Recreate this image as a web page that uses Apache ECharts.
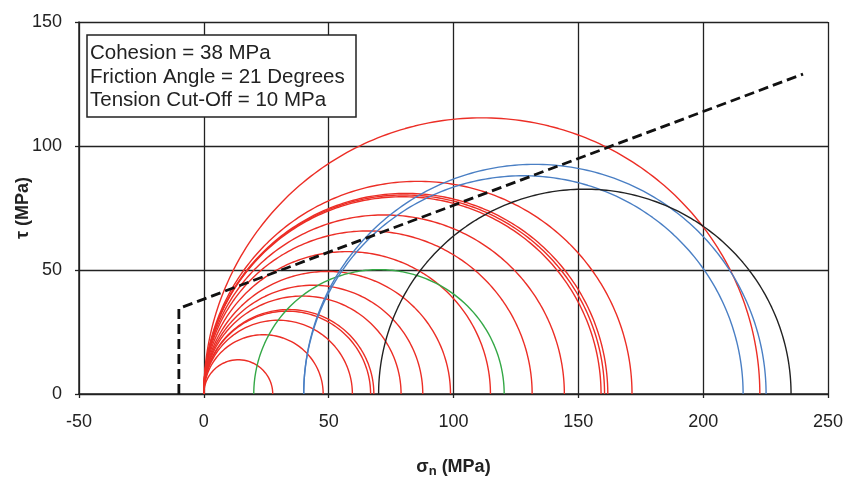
<!DOCTYPE html>
<html>
<head>
<meta charset="utf-8">
<script src="https://cdn.jsdelivr.net/npm/echarts@6/dist/echarts.min.js"></script>
<style>
html,body{margin:0;padding:0;background:#fff;}
#chart{width:846px;height:485px;}
</style>
</head>
<body>
<div id="chart"></div>
<script>
// Mohr circles: minor (sigma3) and major (sigma1) principal stresses, MPa
const redSigma3 = [0, 0, 0, 0, 0, 0, 0, 0, 0, 0, 0, 0, 0, 0, 0, 0];
const redSigma1 = [27.6, 47.8, 59.5, 66.8, 68.1, 79.0, 87.7, 98.8, 114.8, 131.5, 144.4, 159.1, 160.5, 161.8, 171.5, 222.7];
const blueSigma3 = [40, 40];
const blueSigma1 = [216.0, 225.2];
const greenSigma3 = [20];
const greenSigma1 = [120.3];
const blackSigma3 = [70];
const blackSigma1 = [235.2];
// Failure envelope with tension cut-off
const envSigma = [-10, -10, 240];
const envTau = [0, 34.5, 129];
// Axis ticks
const xTicks = [-50, 0, 50, 100, 150, 200, 250];
const yTicks = [0, 50, 100, 150];
const annotation = ['Cohesion = 38 MPa', 'Friction Angle = 21 Degrees', 'Tension Cut-Off = 10 MPa'];

function semicircle(s3, s1) {
  const c = (s3 + s1) / 2, r = (s1 - s3) / 2, pts = [];
  const n = 180;
  for (let i = 0; i <= n; i++) {
    const t = Math.PI * i / n;
    pts.push([c + r * Math.cos(t), r * Math.sin(t)]);
  }
  return pts;
}

const series = [];
function addCircles(s3arr, s1arr, color) {
  s3arr.forEach((s3, i) => {
    series.push({
      type: 'line', data: semicircle(s3, s1arr[i]), showSymbol: false, symbol: 'none',
      lineStyle: {color: color, width: 1.4}, silent: true, z: 3
    });
  });
}
addCircles(redSigma3, redSigma1, '#ec2e26');
addCircles(greenSigma3, greenSigma1, '#34a846');
addCircles(blueSigma3, blueSigma1, '#4a7fc4');
addCircles(blackSigma3, blackSigma1, '#222222');
series.push({
  type: 'line', data: envSigma.map((s, i) => [s, envTau[i]]), showSymbol: false, symbol: 'none',
  lineStyle: {color: '#111', width: 2.8, type: [10, 5]}, z: 5
});

const FONT = 'Liberation Sans, Arial, sans-serif';
const chart = echarts.init(document.getElementById('chart'), null, {renderer: 'canvas'});
chart.setOption({
  animation: false,
  backgroundColor: '#fff',
  title: {
    text: annotation.join('\n'),
    left: 87, top: 35,
    padding: [7, 12, 5, 3],
    borderColor: '#222', borderWidth: 1.5, backgroundColor: '#fff',
    textStyle: {fontFamily: FONT, fontSize: 20.5, fontWeight: 'normal', color: '#222', lineHeight: 23.5}
  },
  grid: {left: 79, right: 18, top: 22, bottom: 91, containLabel: false, outerBoundsMode: 'none'},
  xAxis: {
    type: 'value', min: xTicks[0], max: xTicks[xTicks.length - 1], interval: 50,
    name: '{a|σ}{s|n}{a| (MPa)}', nameLocation: 'middle', nameGap: 63, nameMoveOverlap: false,
    nameTextStyle: {rich: {
      a: {fontFamily: FONT, fontSize: 18, fontWeight: 'bold', color: '#222'},
      s: {fontFamily: FONT, fontSize: 13, fontWeight: 'bold', color: '#222', verticalAlign: 'bottom', padding: [8, 0, 0, 0]}
    }},
    axisLine: {onZero: false, lineStyle: {color: '#222', width: 1.5}},
    axisTick: {show: true, inside: false, length: 4, lineStyle: {color: '#222', width: 1.3}},
    axisLabel: {margin: 19, fontFamily: FONT, fontSize: 18, color: '#222'},
    splitLine: {show: true, lineStyle: {color: '#222', width: 1.3}}
  },
  yAxis: {
    type: 'value', min: yTicks[0], max: yTicks[yTicks.length - 1], interval: 50,
    name: 'τ (MPa)', nameLocation: 'middle', nameGap: 47, nameRotate: 90, nameMoveOverlap: false,
    nameTextStyle: {fontFamily: FONT, fontSize: 18, fontWeight: 'bold', color: '#222'},
    axisLine: {show: true, onZero: false, lineStyle: {color: '#222', width: 1.5}},
    axisTick: {show: true, inside: false, length: 4, lineStyle: {color: '#222', width: 1.3}},
    axisLabel: {margin: 17, fontFamily: FONT, fontSize: 18, color: '#222'},
    splitLine: {show: true, lineStyle: {color: '#222', width: 1.3}}
  },
  series: series
});
</script>
</body>
</html>
